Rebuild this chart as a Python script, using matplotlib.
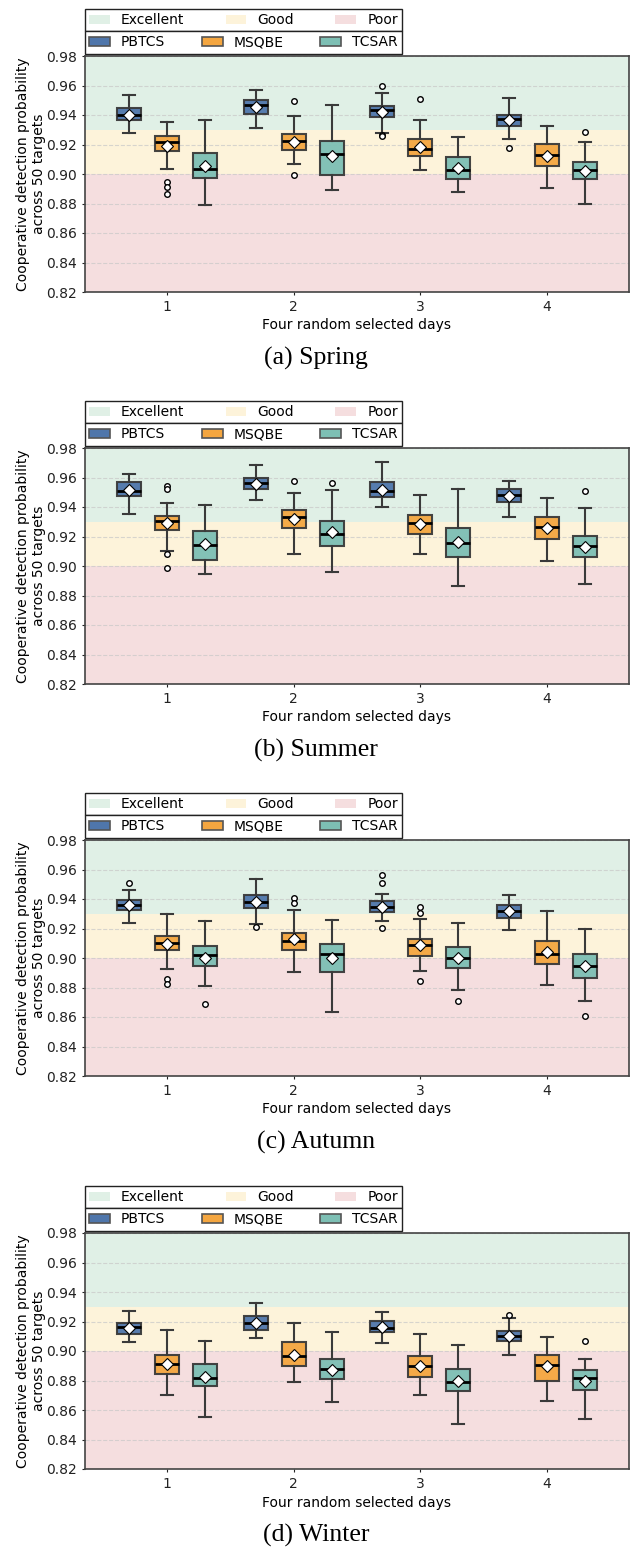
import matplotlib.pyplot as plt
from matplotlib.patches import Patch

plt.rcParams['font.family'] = ['DejaVu Sans']

days = [1, 2, 3, 4]
methods = ['PBTCS', 'MSQBE', 'TCSAR']
seasons = ['(a) Spring', '(b) Summer', '(c) Autumn', '(d) Winter']

# 每天一行: 下须, Q1, 中位数, Q3, 上须, 均值
spring_pbtcs = [(0.9281, 0.9364, 0.9398, 0.9448, 0.9534, 0.9400),
                (0.9313, 0.9410, 0.9471, 0.9502, 0.9572, 0.9455),
                (0.9281, 0.9387, 0.9434, 0.9461, 0.9547, 0.9423),
                (0.9234, 0.9324, 0.9373, 0.9398, 0.9513, 0.9369)]
spring_msqbe = [(0.9033, 0.9155, 0.9218, 0.9261, 0.9351, 0.9188),
                (0.9069, 0.9164, 0.9227, 0.9270, 0.9394, 0.9218),
                (0.9028, 0.9125, 0.9170, 0.9236, 0.9369, 0.9186),
                (0.8904, 0.9055, 0.9127, 0.9202, 0.9326, 0.9125)]
spring_tcsar = [(0.8791, 0.8976, 0.9037, 0.9141, 0.9364, 0.9051),
                (0.8890, 0.8994, 0.9137, 0.9227, 0.9468, 0.9125),
                (0.8879, 0.8963, 0.9030, 0.9114, 0.9249, 0.9042),
                (0.8798, 0.8967, 0.9024, 0.9078, 0.9220, 0.9019)]
spring_fliers = [[[], [], [0.9595, 0.9262, 0.9255], [0.9173]],
                 [[0.8949, 0.8909, 0.8863], [0.9493, 0.8994], [0.9509], []],
                 [[], [], [], [0.9288]]]

summer_pbtcs = [(0.9355, 0.9473, 0.9507, 0.9568, 0.9622, 0.9513),
                (0.9448, 0.9523, 0.9563, 0.9599, 0.9683, 0.9559),
                (0.9403, 0.9468, 0.9509, 0.9568, 0.9703, 0.9518),
                (0.9335, 0.9437, 0.9484, 0.9520, 0.9574, 0.9477)]
summer_msqbe = [(0.9103, 0.9245, 0.9308, 0.9342, 0.9430, 0.9292),
                (0.9080, 0.9258, 0.9333, 0.9382, 0.9498, 0.9322),
                (0.9080, 0.9220, 0.9292, 0.9349, 0.9480, 0.9283),
                (0.9035, 0.9186, 0.9267, 0.9331, 0.9461, 0.9258)]
summer_tcsar = [(0.8945, 0.9042, 0.9143, 0.9234, 0.9412, 0.9150),
                (0.8960, 0.9134, 0.9215, 0.9304, 0.9516, 0.9229),
                (0.8866, 0.9064, 0.9157, 0.9256, 0.9525, 0.9161),
                (0.8877, 0.9058, 0.9134, 0.9204, 0.9396, 0.9130)]
summer_fliers = [[[], [], [], []],
                 [[0.9540, 0.9520, 0.9080, 0.8988], [0.9577], [], []],
                 [[], [0.9565], [], [0.9509]]]

autumn_pbtcs = [(0.9234, 0.9328, 0.9360, 0.9396, 0.9461, 0.9362),
                (0.9228, 0.9342, 0.9378, 0.9425, 0.9536, 0.9378),
                (0.9249, 0.9315, 0.9349, 0.9385, 0.9434, 0.9349),
                (0.9193, 0.9272, 0.9319, 0.9360, 0.9428, 0.9317)]
autumn_msqbe = [(0.8924, 0.9051, 0.9100, 0.9152, 0.9297, 0.9094),
                (0.8906, 0.9051, 0.9118, 0.9168, 0.9324, 0.9132),
                (0.8913, 0.9012, 0.9085, 0.9130, 0.9265, 0.9087),
                (0.8816, 0.8956, 0.9026, 0.9116, 0.9317, 0.9044)]
autumn_tcsar = [(0.8812, 0.8945, 0.9019, 0.9080, 0.9252, 0.9003),
                (0.8631, 0.8906, 0.9024, 0.9094, 0.9261, 0.9003),
                (0.8780, 0.8933, 0.9003, 0.9076, 0.9240, 0.9001),
                (0.8710, 0.8863, 0.8949, 0.9024, 0.9195, 0.8947)]
autumn_fliers = [[[0.9507], [0.9210], [0.9565, 0.9511, 0.9206], []],
                 [[0.8857, 0.8821], [0.9410, 0.9373], [0.9346, 0.9306, 0.8843], []],
                 [[0.8690], [], [0.8708], [0.8608]]]

winter_pbtcs = [(0.9060, 0.9118, 0.9161, 0.9191, 0.9272, 0.9159),
                (0.9087, 0.9143, 0.9188, 0.9240, 0.9326, 0.9191),
                (0.9055, 0.9127, 0.9155, 0.9204, 0.9267, 0.9166),
                (0.8974, 0.9069, 0.9100, 0.9137, 0.9225, 0.9103)]
winter_msqbe = [(0.8705, 0.8841, 0.8911, 0.8972, 0.9139, 0.8911),
                (0.8793, 0.8897, 0.8965, 0.9062, 0.9191, 0.8976),
                (0.8701, 0.8821, 0.8897, 0.8963, 0.9112, 0.8900),
                (0.8658, 0.8800, 0.8904, 0.8972, 0.9094, 0.8895)]
winter_tcsar = [(0.8554, 0.8760, 0.8818, 0.8915, 0.9067, 0.8827),
                (0.8654, 0.8807, 0.8875, 0.8947, 0.9127, 0.8868),
                (0.8502, 0.8726, 0.8793, 0.8877, 0.9042, 0.8796),
                (0.8536, 0.8733, 0.8814, 0.8870, 0.8945, 0.8800)]
winter_fliers = [[[], [], [], [0.9243]],
                 [[], [], [], []],
                 [[], [], [], [0.9071]]]

season_data = [
    ([spring_pbtcs, spring_msqbe, spring_tcsar], spring_fliers),
    ([summer_pbtcs, summer_msqbe, summer_tcsar], summer_fliers),
    ([autumn_pbtcs, autumn_msqbe, autumn_tcsar], autumn_fliers),
    ([winter_pbtcs, winter_msqbe, winter_tcsar], winter_fliers),
]

method_colors = ['#4f76ab', '#f4a640', '#7dbfb4']
band_colors = ['#e0f0e6', '#fdf3da', '#f5dedf']
band_labels = ['Excellent', 'Good', 'Poor']
bands = [(0.93, 0.98), (0.90, 0.93), (0.82, 0.90)]

W, H = 632, 1560
fig = plt.figure(figsize=(W / 100, H / 100), dpi=100)

ax_tops = [56, 448, 840, 1233]
ax_h = 236
ax_left, ax_right = 85, 629
offsets = [-0.3, 0.0, 0.3]

for k, (stats, fliers) in enumerate(season_data):
    top = ax_tops[k]
    ax = fig.add_axes([ax_left / W, 1 - (top + ax_h) / H,
                       (ax_right - ax_left) / W, ax_h / H])

    # 背景等级区域
    for (lo, hi), c in zip(bands, band_colors):
        ax.axhspan(lo, hi, color=c, zorder=0, lw=0)

    for m in range(3):
        bxp_stats = []
        for d in range(4):
            lo, q1, med, q3, hi, mean = stats[m][d]
            bxp_stats.append(dict(whislo=lo, q1=q1, med=med, q3=q3, whishi=hi,
                                  mean=mean, fliers=fliers[m][d]))
        ax.bxp(bxp_stats, positions=[x + offsets[m] for x in days], widths=0.19,
               patch_artist=True, showmeans=True, manage_ticks=False,
               boxprops=dict(facecolor=method_colors[m], edgecolor='#3a3a3a',
                             linewidth=1.5, alpha=0.95),
               medianprops=dict(color='black', linewidth=2),
               whiskerprops=dict(color='#3a3a3a', linewidth=1.5),
               capprops=dict(color='#3a3a3a', linewidth=1.5),
               meanprops=dict(marker='D', markerfacecolor='white',
                              markeredgecolor='black', markersize=6.5,
                              markeredgewidth=0.8),
               flierprops=dict(marker='o', markerfacecolor='white',
                               markeredgecolor='black', markersize=4,
                               markeredgewidth=1))

    ax.set_xlim(0.353, 4.647)
    ax.set_ylim(0.82, 0.98)
    ax.set_xticks(days)
    ax.set_yticks([0.82, 0.84, 0.86, 0.88, 0.90, 0.92, 0.94, 0.96, 0.98])
    ax.yaxis.grid(True, linestyle='--', color='#c8c8c8', linewidth=0.8, alpha=0.7)
    ax.tick_params(labelsize=10, colors='#222222', length=2.5)
    for sp in ax.spines.values():
        sp.set_color('#444444')
        sp.set_linewidth(1.2)

    ax.set_xlabel('Four random selected days', fontsize=10, labelpad=3)
    ax.set_ylabel('Cooperative detection probability\nacross 50 targets',
                  fontsize=10, labelpad=0)

    # 图例
    band_handles = [Patch(facecolor=c, edgecolor='none') for c in band_colors]
    leg1 = ax.legend(band_handles, band_labels, ncol=3, mode='expand',
                     loc='lower left', bbox_to_anchor=(0, 1.104, 0.583, 0.05),
                     borderaxespad=0, fontsize=10, fancybox=False,
                     edgecolor='#222222', framealpha=1, handlelength=1.5,
                     borderpad=0.3, handleheight=0.7)
    leg1.get_frame().set_linewidth(1.0)
    ax.add_artist(leg1)
    method_handles = [Patch(facecolor=c, edgecolor='#555555', linewidth=1.2)
                      for c in method_colors]
    leg2 = ax.legend(method_handles, methods, ncol=3, mode='expand',
                     loc='lower left', bbox_to_anchor=(0, 1.010, 0.583, 0.05),
                     borderaxespad=0, fontsize=10, fancybox=False,
                     edgecolor='#222222', framealpha=1, handlelength=1.5,
                     borderpad=0.3, handleheight=0.7)
    leg2.get_frame().set_linewidth(1.0)

    fig.text(0.5, 1 - (top + ax_h + 66) / H, seasons[k], ha='center', va='center',
             fontsize=18.5, family=['Liberation Serif'])

plt.savefig('out.png', dpi=100)
